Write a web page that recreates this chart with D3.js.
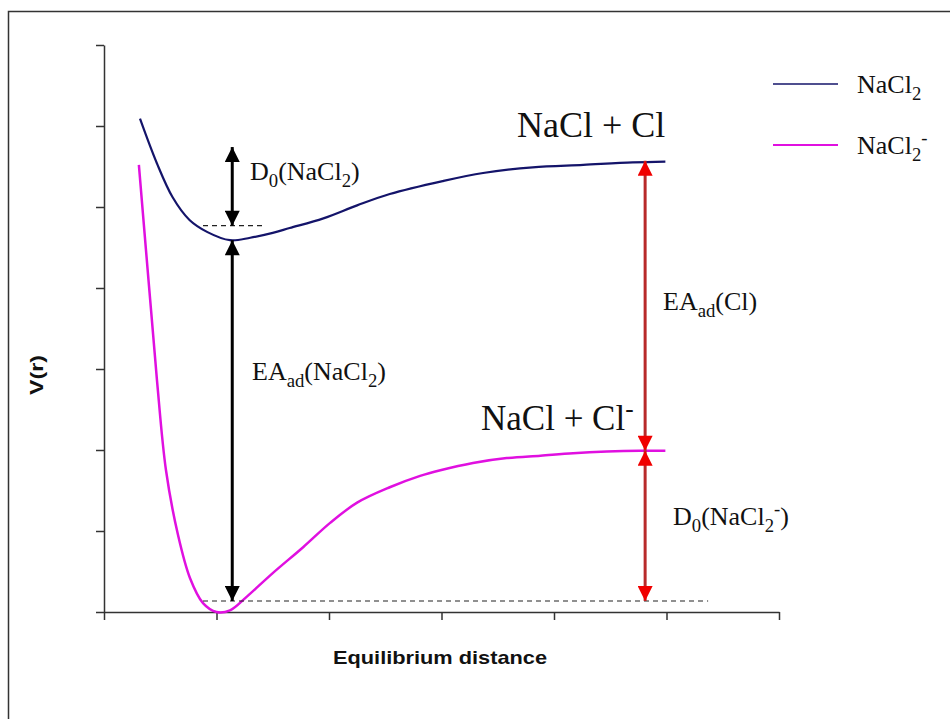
<!DOCTYPE html>
<html>
<head>
<meta charset="utf-8">
<script src="https://cdn.jsdelivr.net/npm/d3@7"></script>
<style>
  html, body { margin: 0; padding: 0; background: #fff; }
  svg { display: block; }
  .serif { font-family: "Liberation Serif", "Times New Roman", serif; fill: #111; }
  .sans { font-family: "Liberation Sans", Arial, sans-serif; font-weight: bold; fill: #111; }
</style>
</head>
<body>
<svg id="chart" width="950" height="719"></svg>
<script>
// Potential energy curves V(r) for neutral NaCl2 and the anion NaCl2-
const distNaCl2   = [0.32, 0.47, 0.61, 0.76, 0.92, 1.12, 1.30, 1.50, 1.65, 1.95, 2.25, 2.54, 3.01, 3.37, 3.81, 4.26, 4.70, 4.99];
const energyNaCl2 = [6.09, 5.54, 5.12, 4.84, 4.69, 4.59, 4.62, 4.68, 4.74, 4.86, 5.02, 5.16, 5.32, 5.42, 5.49, 5.52, 5.55, 5.56];

const distAnion   = [0.31, 0.373, 0.418, 0.471, 0.551, 0.658, 0.764, 0.88, 1.00, 1.12, 1.27, 1.50, 1.77, 2.01, 2.25, 2.54, 2.81, 2.99, 3.28, 3.58, 3.88, 4.17, 4.47, 4.76, 4.99];
const energyAnion = [5.52, 4.47,  3.73,  2.86,  1.75,  0.95,  0.42,  0.11, 0.00, 0.02, 0.19, 0.48, 0.80, 1.10, 1.35, 1.54, 1.68, 1.75, 1.84, 1.90, 1.93, 1.96, 1.98, 1.99, 1.99];

// Axis ticks (unlabelled)
const xTicks = [0, 1, 2, 3, 4, 5, 6];
const yTicks = [0, 1, 2, 3, 4, 5, 6, 7];

// Reference energy levels used by the annotations
const levelNeutralMinGuide = 4.77;   // dashed guide under D0(NaCl2)
const levelNeutralMin      = 4.59;   // bottom of the NaCl2 well
const levelNeutralTop      = 5.74;   // top of the D0(NaCl2) arrow
const levelNeutralAsym     = 5.57;   // NaCl + Cl
const levelAnionAsym       = 1.99;   // NaCl + Cl-
const levelAnionMinGuide   = 0.136;  // dashed guide at the anion well
const xWellArrow = 1.14;
const xAsymArrow = 4.81;

const svg = d3.select("#chart");

// Frame around the figure
svg.append("rect")
  .attr("x", 8.5).attr("y", 11.5).attr("width", 960).attr("height", 730)
  .attr("fill", "none").attr("stroke", "#333").attr("stroke-width", 1.5);

const x = d3.scaleLinear().domain([0, 6]).range([104, 779]);
const y = d3.scaleLinear().domain([0, 7]).range([612, 45]);

// Axes
const gx = svg.append("g").attr("transform", `translate(0,${y(0)})`)
  .call(d3.axisBottom(x).tickValues(xTicks).tickFormat("").tickSizeInner(8).tickSizeOuter(0));
const gy = svg.append("g").attr("transform", `translate(${x(0)},0)`)
  .call(d3.axisLeft(y).tickValues(yTicks).tickFormat("").tickSizeInner(8).tickSizeOuter(0));
[gx, gy].forEach(g => {
  g.selectAll("path, line").attr("stroke", "#333").attr("stroke-width", 1.5);
});

svg.append("text").attr("class", "sans")
  .attr("x", 333).attr("y", 664)
  .attr("font-size", 19).attr("textLength", 214).attr("lengthAdjust", "spacingAndGlyphs")
  .text("Equilibrium distance");
svg.append("text").attr("class", "sans")
  .attr("transform", `translate(43,395) rotate(-90)`)
  .attr("font-size", 18).attr("textLength", 40).attr("lengthAdjust", "spacingAndGlyphs")
  .text("V(r)");

// Curves
const line = d3.line().x(d => x(d[0])).y(d => y(d[1])).curve(d3.curveCatmullRom.alpha(0.5));
svg.append("path")
  .datum(d3.zip(distNaCl2, energyNaCl2))
  .attr("d", line).attr("fill", "none")
  .attr("stroke", "#14146a").attr("stroke-width", 2.2);
svg.append("path")
  .datum(d3.zip(distAnion, energyAnion))
  .attr("d", line).attr("fill", "none")
  .attr("stroke", "#e010e0").attr("stroke-width", 2.5);

// Dashed guides
svg.append("line")
  .attr("x1", x(0.88)).attr("x2", x(1.41))
  .attr("y1", y(levelNeutralMinGuide)).attr("y2", y(levelNeutralMinGuide))
  .attr("stroke", "#222").attr("stroke-width", 1.2).attr("stroke-dasharray", "5,4");
svg.append("line")
  .attr("x1", x(0.88)).attr("x2", x(5.37))
  .attr("y1", y(levelAnionMinGuide)).attr("y2", y(levelAnionMinGuide))
  .attr("stroke", "#222").attr("stroke-width", 1.2).attr("stroke-dasharray", "5,4");

// Arrow heads
const defs = svg.append("defs");
function head(id, color) {
  defs.append("marker")
    .attr("id", id).attr("viewBox", "0 0 10 10")
    .attr("refX", 10).attr("refY", 5)
    .attr("markerUnits", "userSpaceOnUse")
    .attr("markerWidth", 18).attr("markerHeight", 15)
    .attr("orient", "auto-start-reverse")
    .append("path").attr("d", "M0,0 L10,5 L0,10 Z").attr("fill", color);
}
head("headBlack", "#000");
head("headRed", "#f00000");

function arrow(xv, v0, v1, color, marker) {
  svg.append("line")
    .attr("x1", x(xv)).attr("x2", x(xv))
    .attr("y1", y(v0)).attr("y2", y(v1))
    .attr("stroke", color).attr("stroke-width", 3)
    .attr("marker-start", `url(#${marker})`)
    .attr("marker-end", `url(#${marker})`);
}
arrow(xWellArrow, levelNeutralTop, levelNeutralMinGuide, "#000", "headBlack");
arrow(xWellArrow, levelNeutralMin, levelAnionMinGuide, "#000", "headBlack");
arrow(xAsymArrow, levelNeutralAsym, levelAnionAsym, "#b82a2a", "headRed");
arrow(xAsymArrow, levelAnionAsym, levelAnionMinGuide, "#b82a2a", "headRed");

// Text with sub/superscripts: parts are [text, "n"|"sub"|"sup"]
function richText(px, py, size, parts) {
  const t = svg.append("text").attr("class", "serif")
    .attr("x", px).attr("y", py).attr("font-size", size);
  let shift = 0;
  parts.forEach(([s, kind]) => {
    const target = kind === "sub" ? size * 0.28 : kind === "sup" ? -size * 0.38 : 0;
    t.append("tspan")
      .attr("dy", target - shift)
      .attr("font-size", kind === "n" ? size : size * 0.72)
      .text(s);
    shift = target;
  });
  return t;
}

richText(517, 137, 36, [["NaCl + Cl", "n"]]);
richText(481, 430, 35, [["NaCl + Cl", "n"], ["-", "sup"]]);
richText(250, 180, 26, [["D", "n"], ["0", "sub"], ["(NaCl", "n"], ["2", "sub"], [")", "n"]]);
richText(252, 380, 26, [["EA", "n"], ["ad", "sub"], ["(NaCl", "n"], ["2", "sub"], [")", "n"]]);
richText(663, 310, 26, [["EA", "n"], ["ad", "sub"], ["(Cl)", "n"]]);
richText(673, 525, 26, [["D", "n"], ["0", "sub"], ["(NaCl", "n"], ["2", "sub"], ["-", "sup"], [")", "n"]]);

// Legend
const legend = [
  { color: "#14146a", width: 1.5, y: 84, parts: [["NaCl", "n"], ["2", "sub"]] },
  { color: "#e010e0", width: 2,   y: 145, parts: [["NaCl", "n"], ["2", "sub"], ["-", "sup"]] }
];
legend.forEach(d => {
  svg.append("line").attr("x1", 773).attr("x2", 838)
    .attr("y1", d.y).attr("y2", d.y)
    .attr("stroke", d.color).attr("stroke-width", d.width);
  richText(857, d.y + 9, 26, d.parts);
});
</script>
</body>
</html>
